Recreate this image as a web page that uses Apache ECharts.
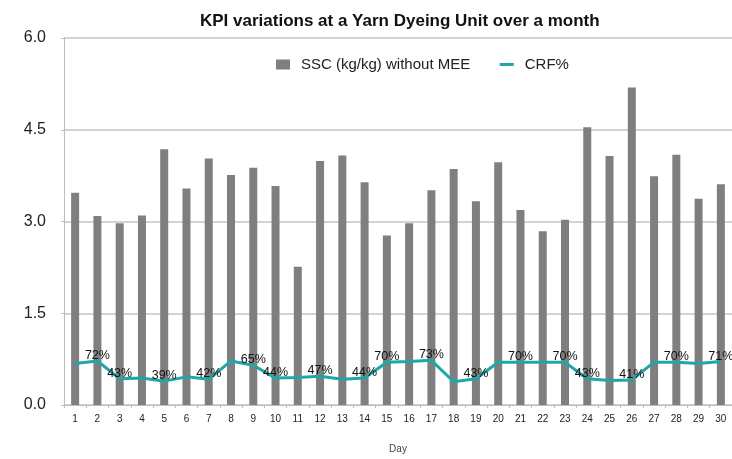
<!DOCTYPE html>
<html>
<head>
<meta charset="utf-8">
<script src="https://cdn.jsdelivr.net/npm/echarts@6/dist/echarts.min.js"></script>
<style>
html,body{margin:0;padding:0;background:#fff;}
#c{width:732px;height:459px;}
</style>
</head>
<body>
<div id="c"></div>
<script>
var days = ['1','2','3','4','5','6','7','8','9','10','11','12','13','14','15','16','17','18','19','20','21','22','23','24','25','26','27','28','29','30'];
var sscValues = [3.47,3.09,2.97,3.10,4.18,3.54,4.03,3.76,3.88,3.58,2.26,3.99,4.08,3.64,2.77,2.97,3.51,3.86,3.33,3.97,3.19,2.84,3.03,4.54,4.07,5.19,3.74,4.09,3.37,3.61];
var crfPercent = [68,72,43,44,39,46,42,72,65,44,45,47,42,44,70,71,73,38,43,70,70,70,70,43,40,41,70,70,68,71];
var crfLabelDays = ['2','3','5','7','9','10','12','14','15','17','19','21','23','24','26','28','30'];
var yTicks = [0, 1.5, 3.0, 4.5, 6.0];

var FONT = '"Liberation Sans", Arial, Helvetica, sans-serif';

var crfData = crfPercent.map(function(p, i){
  return {
    value: p / 100,
    label: { show: crfLabelDays.indexOf(days[i]) >= 0 }
  };
});

var chart = echarts.init(document.getElementById('c'), null, {renderer:'canvas'});
chart.setOption({
  animation: false,
  backgroundColor: '#ffffff',
  title: {
    text: 'KPI variations at a Yarn Dyeing Unit over a month',
    left: 195, top: 8,
    textStyle: { fontFamily: FONT, fontSize: 17, fontWeight: 'bold', color: '#111' }
  },
  legend: {
    left: 271, top: 52,
    itemWidth: 14, itemHeight: 10, itemGap: 28,
    textStyle: { fontFamily: FONT, fontSize: 15, color: '#222', padding: [0,0,0,6] },
    data: [
      { name: 'SSC (kg/kg) without MEE', icon: 'rect' },
      { name: 'CRF%', itemStyle: { opacity: 0 }, lineStyle: { width: 3, color: '#1fa6a8' } }
    ]
  },
  grid: { left: 64, right: -2, top: 38, bottom: 46, containLabel: false },
  xAxis: {
    type: 'category',
    data: days,
    name: 'Day',
    nameLocation: 'middle',
    nameGap: 39,
    nameTextStyle: { fontFamily: FONT, fontSize: 10, color: '#444' },
    axisLine: { lineStyle: { color: '#bdbdbd', width: 1 } },
    axisTick: { show: true, length: 3, lineStyle: { color: '#bdbdbd' } },
    axisLabel: { fontFamily: FONT, fontSize: 10, color: '#222', margin: 9 }
  },
  yAxis: {
    type: 'value',
    min: 0, max: 6, interval: 1.5,
    axisLine: { show: true, lineStyle: { color: '#bdbdbd', width: 1 } },
    axisTick: { show: true, length: 3, lineStyle: { color: '#bdbdbd' } },
    splitLine: { lineStyle: { color: '#c4c4c4', width: 1.5 } },
    axisLabel: {
      fontFamily: FONT, fontSize: 16, color: '#222', margin: 18,
      formatter: function(v){ return yTicks.indexOf(v) >= 0 ? v.toFixed(1) : ''; }
    }
  },
  series: [
    {
      name: 'SSC (kg/kg) without MEE',
      type: 'bar',
      data: sscValues,
      barWidth: 8,
      itemStyle: { color: '#7f7f7f' }
    },
    {
      name: 'CRF%',
      type: 'line',
      data: crfData,
      symbol: 'circle',
      symbolSize: 0,
      showSymbol: true,
      lineStyle: { color: '#1fa6a8', width: 3 },
      itemStyle: { color: '#1fa6a8' },
      label: {
        show: false,
        position: 'top', distance: -1,
        fontFamily: FONT, fontSize: 12.5, color: '#111',
        formatter: function(p){ return Math.round(p.value * 100) + '%'; }
      },
      z: 3
    }
  ]
});
</script>
</body>
</html>
